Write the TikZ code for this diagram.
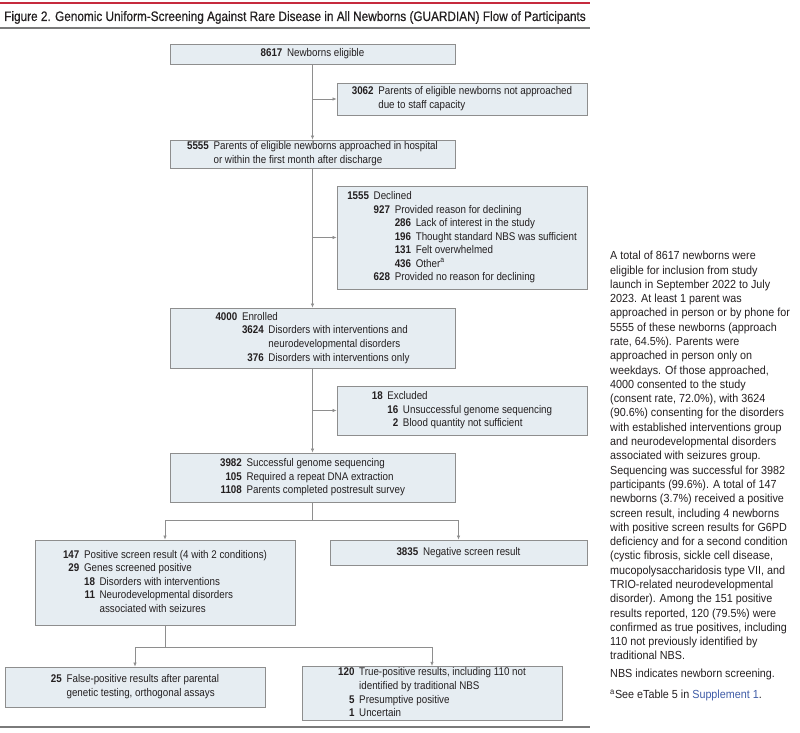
\documentclass[tikz,border=0pt]{standalone}
\usepackage{fontspec}
\setmainfont[FakeStretch=0.88]{Liberation Sans}
\newfontfamily\notefont[FakeStretch=0.92]{Liberation Sans}
\newfontfamily\titlefont[FakeStretch=0.86,FakeBold=0.5]{Liberation Sans}
\usetikzlibrary{arrows.meta}
\definecolor{boxfill}{HTML}{E6EDF2}
\definecolor{boxline}{HTML}{8E8E8E}
\definecolor{rulered}{HTML}{C62A3E}
\definecolor{rulegrey}{HTML}{7A7A7A}
\definecolor{linkblue}{HTML}{3E5BA6}
\definecolor{txt}{HTML}{231F20}
\newcommand{\nb}[1]{\textbf{#1}}
\newcommand{\gap}{\hspace{4pt}}
\newcommand{\mcol}[2]{\multicolumn{#1}{@{}l@{}}{#2}}
\tikzset{
  flowbox/.style 2 args={draw=boxline, fill=boxfill, line width=0.6pt,
    minimum width=#1*0.03cm, minimum height=#2*0.03cm, inner sep=0pt,
    text=txt, font=\fontsize{9.5}{11.6}\selectfont},
  flowarrow/.style={draw=boxline, line width=0.6pt, -{Latex[length=3.5pt,width=3pt]}},
}
\begin{document}
\begin{tikzpicture}[x=0.03cm,y=-0.03cm]
\useasboundingbox (0,0) rectangle (800,733);
\draw[rulered, line width=2pt] (0,3) -- (590,3);
\node[anchor=base west, inner sep=0pt, text=txt, font=\titlefont\fontsize{11.7}{13}\selectfont] (title) at (4,21)
  {Figure 2. Genomic Uniform-Screening Against Rare Disease in All Newborns (GUARDIAN) Flow of Participants};
\draw[rulegrey, line width=1pt] (0,28) -- (590,28);

\node[flowbox={285}{20}] (elig) at (312.5,54) {\nb{8617}\gap Newborns eligible};
\node[flowbox={250}{32}] (notapp) at (462,99) {\begin{tabular}{@{}r@{\gap}l@{}}
  \nb{3062} & Parents of eligible newborns not approached\\
  & due to staff capacity\end{tabular}};
\node[flowbox={285}{28}] (approach) at (312.5,154) {\begin{tabular}{@{}r@{\gap}l@{}}
  \nb{5555} & Parents of eligible newborns approached in hospital\\
  & or within the first month after discharge\end{tabular}};
\node[flowbox={250}{103}] (declined) at (462,237.5) {\begin{tabular}{@{}r@{\gap}r@{\gap}r@{\gap}l@{}}
  \nb{1555} & \mcol{3}{Declined}\\
  & \nb{927} & \mcol{2}{Provided reason for declining}\\
  & & \nb{286} & Lack of interest in the study\\
  & & \nb{196} & Thought standard NBS was sufficient\\
  & & \nb{131} & Felt overwhelmed\\
  & & \nb{436} & Other\textsuperscript{a}\\
  & \nb{628} & \mcol{2}{Provided no reason for declining}\end{tabular}};
\node[flowbox={285}{60}] (enrolled) at (312.5,338) {\begin{tabular}{@{}r@{\gap}r@{\gap}l@{}}
  \nb{4000} & \mcol{2}{Enrolled}\\
  & \nb{3624} & Disorders with interventions and\\
  & & neurodevelopmental disorders\\
  & \nb{376} & Disorders with interventions only\end{tabular}};
\node[flowbox={250}{49}] (excluded) at (462,410.5) {\begin{tabular}{@{}r@{\gap}r@{\gap}l@{}}
  \nb{18} & \mcol{2}{Excluded}\\
  & \nb{16} & Unsuccessful genome sequencing\\
  & \nb{2} & Blood quantity not sufficient\end{tabular}};
\node[flowbox={285}{49}] (seq) at (312.5,477.5) {\begin{tabular}{@{}r@{\gap}l@{}}
  \nb{3982} & Successful genome sequencing\\
  \nb{105} & Required a repeat DNA extraction\\
  \nb{1108} & Parents completed postresult survey\end{tabular}};
\node[flowbox={260}{85}] (pos) at (165,582.5) {\begin{tabular}{@{}r@{\gap}r@{\gap}l@{}}
  \nb{147} & \mcol{2}{Positive screen result (4 with 2 conditions)}\\
  \nb{29} & \mcol{2}{Genes screened positive}\\
  & \nb{18} & Disorders with interventions\\
  & \nb{11} & Neurodevelopmental disorders\\
  & & associated with seizures\end{tabular}};
\node[flowbox={257}{25}] (neg) at (458.5,552.5) {\nb{3835}\gap Negative screen result};
\node[flowbox={260}{40}] (falsepos) at (135,687) {\begin{tabular}{@{}r@{\gap}l@{}}
  \nb{25} & False-positive results after parental\\
  & genetic testing, orthogonal assays\end{tabular}};
\node[flowbox={260}{53}] (truepos) at (432,693.5) {\begin{tabular}{@{}r@{\gap}l@{}}
  \nb{120} & True-positive results, including 110 not\\
  & identified by traditional NBS\\
  \nb{5} & Presumptive positive\\
  \nb{1} & Uncertain\end{tabular}};

\draw[flowarrow] (elig) -- (approach);
\draw[flowarrow] (elig.south |- notapp.west) -- (notapp.west);
\draw[flowarrow] (approach) -- (enrolled);
\draw[flowarrow] (approach.south |- declined.west) -- (declined.west);
\draw[flowarrow] (enrolled) -- (seq);
\draw[flowarrow] (enrolled.south |- excluded.west) -- (excluded.west);
\draw[flowarrow] (seq.south) -- ++(0,18) -| (pos.north);
\draw[flowarrow] (seq.south) -- ++(0,18) -| (neg.north);
\draw[flowarrow] (pos.south) -- ++(0,22) -| (falsepos.north);
\draw[flowarrow] (pos.south) -- ++(0,22) -| (truepos.north);

\draw[rulegrey, line width=1pt] (0,727) -- (590,727);

\node[anchor=north west, inner sep=0pt, align=left, text=txt, font=\notefont\fontsize{10}{12.2}\selectfont] (note) at (610,251) {%
A total of 8617 newborns were\\
eligible for inclusion from study\\
launch in September 2022 to July\\
2023. At least 1 parent was\\
approached in person or by phone for\\
5555 of these newborns (approach\\
rate, 64.5\%). Parents were\\
approached in person only on\\
weekdays. Of those approached,\\
4000 consented to the study\\
(consent rate, 72.0\%), with 3624\\
(90.6\%) consenting for the disorders\\
with established interventions group\\
and neurodevelopmental disorders\\
associated with seizures group.\\
Sequencing was successful for 3982\\
participants (99.6\%). A total of 147\\
newborns (3.7\%) received a positive\\
screen result, including 4 newborns\\
with positive screen results for G6PD\\
deficiency and for a second condition\\
(cystic fibrosis, sickle cell disease,\\
mucopolysaccharidosis type VII, and\\
TRIO-related neurodevelopmental\\
disorder). Among the 151 positive\\
results reported, 120 (79.5\%) were\\
confirmed as true positives, including\\
110 not previously identified by\\
traditional NBS.};
\node[anchor=north west, inner sep=0pt, text=txt, font=\notefont\fontsize{10}{12.2}\selectfont] (abbr) at (610,669) {NBS indicates newborn screening.};
\node[anchor=north west, inner sep=0pt, text=txt, font=\notefont\fontsize{10}{12.2}\selectfont] (fnote) at (610,690)
  {\textsuperscript{a}See eTable 5 in \textcolor{linkblue}{Supplement 1}.};
\end{tikzpicture}
\end{document}
